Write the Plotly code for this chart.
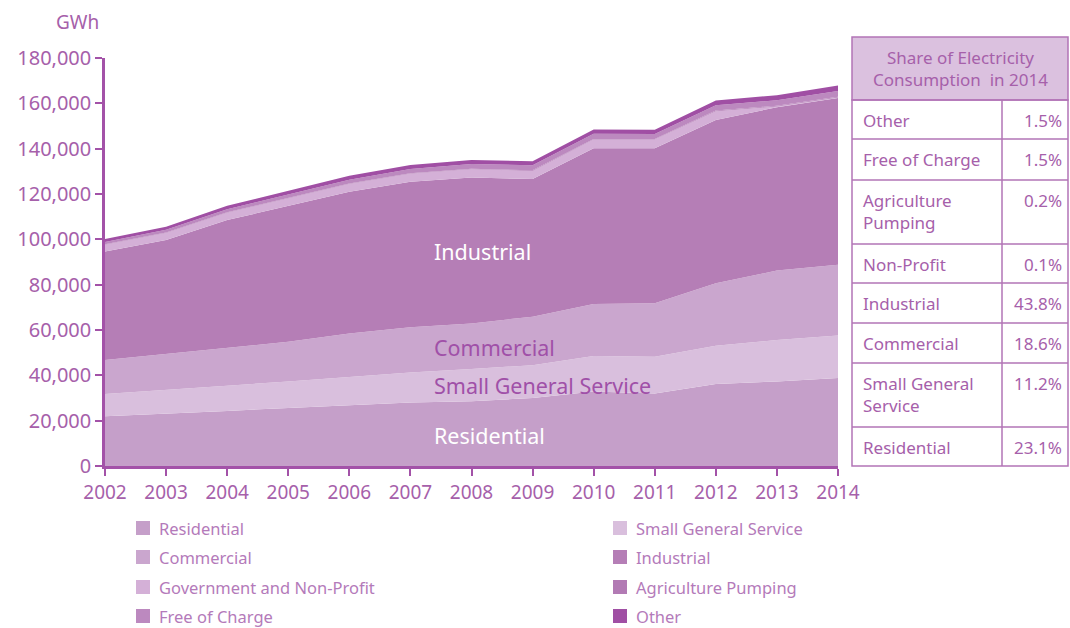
import plotly.graph_objects as go

# Electricity consumption by customer class, GWh
years = list(range(2002, 2015))
residential = [22000, 23000, 24300, 25600, 26900, 28000, 28600, 30000, 32900, 32000, 36200, 37300, 38800]
small_general = [9800, 10500, 11100, 11700, 12400, 13300, 14200, 14500, 15600, 16200, 16800, 18300, 18800]
commercial = [15000, 15900, 16800, 17500, 19200, 19900, 20100, 21400, 23000, 23600, 27600, 30600, 31200]
industrial = [47800, 50300, 56300, 59900, 62500, 64200, 64400, 60700, 68700, 68400, 72000, 72100, 73600]
gov_nonprofit = [3000, 3100, 3200, 3300, 3400, 3500, 3600, 3600, 3800, 3800, 3900, 300, 200]
agri_pumping = [200, 200, 200, 200, 200, 200, 200, 300, 300, 300, 300, 300, 300]
free_of_charge = [1000, 1200, 1400, 1500, 1700, 1900, 2100, 2200, 2300, 2200, 2400, 2500, 2500]
other = [1300, 1400, 1500, 1600, 1700, 1800, 1800, 1800, 1900, 1900, 2000, 2200, 2500]

series_names = ["Residential", "Small General Service", "Commercial", "Industrial",
                "Government and Non-Profit", "Agriculture Pumping", "Free of Charge", "Other"]
series_values = [residential, small_general, commercial, industrial,
                 gov_nonprofit, agri_pumping, free_of_charge, other]
series_colors = ["#C59FC9", "#D9BFDD", "#CAA6CE", "#B57EB6",
                 "#D4B0D7", "#B27AB4", "#BC89BF", "#A04FA4"]

# Share table for 2014 (top row first)
share_labels = ["Other", "Free of Charge", "Agriculture<br>Pumping", "Non-Profit",
                "Industrial", "Commercial", "Small General<br>Service", "Residential"]
share_values = ["1.5%", "1.5%", "0.2%", "0.1%", "43.8%", "18.6%", "11.2%", "23.1%"]

# Legend layout: two columns
legend_left = ["Residential", "Commercial", "Government and Non-Profit", "Free of Charge"]
legend_right = ["Small General Service", "Industrial", "Agriculture Pumping", "Other"]

FONT = "Noto Sans"
AXIS = "#A352A8"
TXT = "#A660AA"
W, H = 1070, 628
L, R, T, B = 105, 232, 58, 162
PW, PH = W - L - R, H - T - B


def px(xp):
    return (xp - L) / PW


def py(yp):
    return (H - B - yp) / PH


fig = go.Figure()
for name, vals, col in zip(series_names, series_values, series_colors):
    fig.add_trace(go.Scatter(
        x=years, y=vals, name=name, mode="lines", stackgroup="one",
        line=dict(width=0, color=col), fillcolor=col, showlegend=False,
        hovertemplate="%{x}: %{y:,} GWh<extra>" + name + "</extra>",
    ))

shapes = []
annotations = []

# In-area labels
area_labels = [("Industrial", 94800, "white"), ("Commercial", 52500, "#A050A8"),
               ("Small General Service", 35400, "#A050A8"), ("Residential", 13400, "white")]
for text, yv, col in area_labels:
    annotations.append(dict(x=2007.36, y=yv, xref="x", yref="y", text=text, showarrow=False,
                            xanchor="left", yanchor="middle",
                            font=dict(family=FONT, size=21.5, color=col)))

# Unit label
annotations.append(dict(x=px(77), y=py(22), xref="paper", yref="paper", text="GWh",
                        showarrow=False, xanchor="center", yanchor="middle",
                        font=dict(family=FONT, size=19, color=TXT)))

# Table of shares
tx0, tx1, tx2 = 852, 1002, 1068
head_top, head_bot = 37, 100
row_edges = [100, 139, 180, 244, 283, 323, 363, 427, 466]
border = "#B274B6"
shapes.append(dict(type="rect", xref="paper", yref="paper", x0=px(tx0), x1=px(tx2),
                   y0=py(head_bot), y1=py(head_top), fillcolor="#DBC1DF",
                   line=dict(color=border, width=1.5), layer="above"))
shapes.append(dict(type="rect", xref="paper", yref="paper", x0=px(tx0), x1=px(tx2),
                   y0=py(row_edges[-1]), y1=py(row_edges[0]), fillcolor="rgba(0,0,0,0)",
                   line=dict(color=border, width=1.5), layer="above"))
shapes.append(dict(type="line", xref="paper", yref="paper", x0=px(tx1), x1=px(tx1),
                   y0=py(row_edges[-1]), y1=py(row_edges[0]),
                   line=dict(color=border, width=1.5), layer="above"))
for e in row_edges[1:-1]:
    shapes.append(dict(type="line", xref="paper", yref="paper", x0=px(tx0), x1=px(tx2),
                       y0=py(e), y1=py(e), line=dict(color=border, width=1.5), layer="above"))
annotations.append(dict(x=px((tx0 + tx2) / 2), y=py(68), xref="paper", yref="paper",
                        text="Share of Electricity<br>Consumption  in 2014", showarrow=False,
                        xanchor="center", yanchor="middle", align="center",
                        font=dict(family=FONT, size=17, color=TXT)))
for i, (lab, val) in enumerate(zip(share_labels, share_values)):
    top = row_edges[i]
    annotations.append(dict(x=px(tx0 + 9), y=py(top + 7), xref="paper", yref="paper",
                            text=lab, showarrow=False, xanchor="left", yanchor="top",
                            align="left", font=dict(family=FONT, size=17, color=TXT)))
    annotations.append(dict(x=px(tx2 - 4), y=py(top + 7), xref="paper", yref="paper",
                            text=val, showarrow=False, xanchor="right", yanchor="top",
                            align="right", font=dict(family=FONT, size=17, color=TXT)))

# Legend swatches and labels
color_of = dict(zip(series_names, series_colors))
legend_rows = [528, 557, 587, 616]
for col_names, sx in ((legend_left, 136), (legend_right, 613)):
    for name, ry in zip(col_names, legend_rows):
        shapes.append(dict(type="rect", xref="paper", yref="paper", x0=px(sx), x1=px(sx + 14),
                           y0=py(ry + 7), y1=py(ry - 7), fillcolor=color_of[name],
                           line=dict(width=0)))
        annotations.append(dict(x=px(sx + 21), y=py(ry), xref="paper", yref="paper",
                                text=name, showarrow=False, xanchor="left", yanchor="middle",
                                font=dict(family=FONT, size=16.5, color="#B47ABA")))

fig.update_layout(
    width=W, height=H,
    margin=dict(l=L, r=R, t=T, b=B, pad=0),
    paper_bgcolor="white", plot_bgcolor="white",
    showlegend=False,
    shapes=shapes, annotations=annotations,
    xaxis=dict(range=[2002, 2014], tickmode="array", tickvals=years,
               ticktext=[str(y) for y in years], showgrid=False, zeroline=False,
               showline=True, linecolor=AXIS, linewidth=2.5, ticks="outside",
               ticklen=7, tickwidth=2, tickcolor=AXIS,
               tickfont=dict(family=FONT, size=19, color=TXT)),
    yaxis=dict(range=[0, 180000], dtick=20000, tickformat=",", showgrid=False,
               zeroline=False, showline=True, linecolor=AXIS, linewidth=2.5,
               ticks="outside", ticklen=7, tickwidth=2, tickcolor=AXIS,
               tickfont=dict(family=FONT, size=20, color=TXT)),
)

fig.write_html("out.html")
